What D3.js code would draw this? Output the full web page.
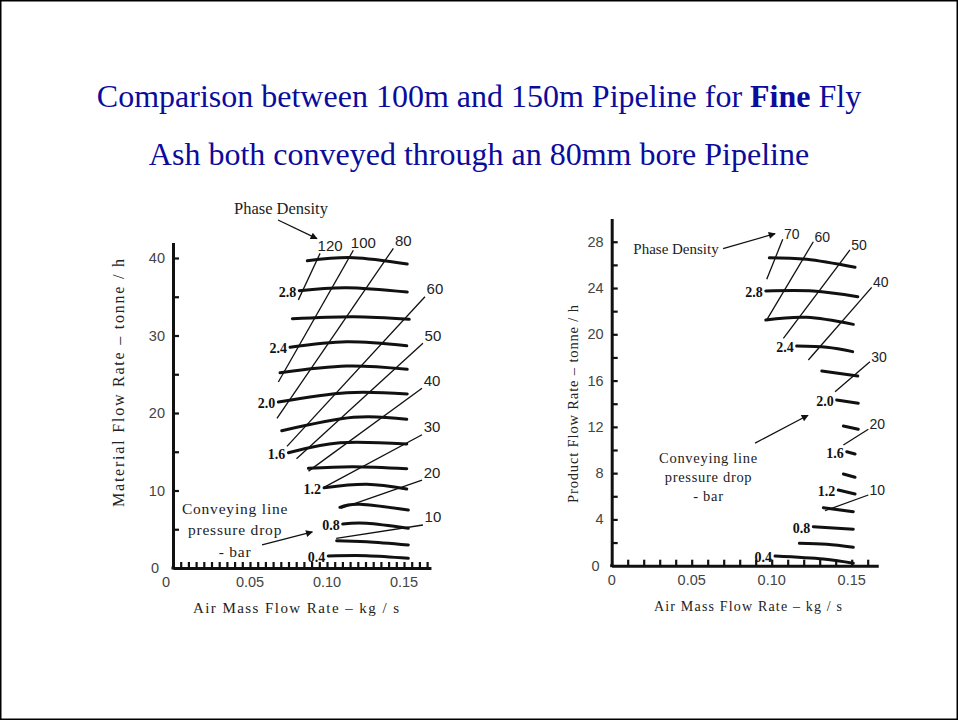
<!DOCTYPE html>
<html><head><meta charset="utf-8">
<script src="https://cdnjs.cloudflare.com/ajax/libs/d3/7.8.5/d3.min.js"></script>
<style>body{margin:0;background:#fff}svg{display:block}</style>
</head><body>
<script>
// ---------- DATA ----------
const titleLine1 = ["Comparison between 100m and 150m Pipeline for ", "Fine", " Fly"];
const titleLine2 = "Ash both conveyed through an 80mm bore Pipeline";

const pressureLevels = [3.0, 2.8, 2.6, 2.4, 2.2, 2.0, 1.8, 1.6, 1.4, 1.2, 1.0, 0.8, 0.6, 0.4];
const pressureLabelLevels = [2.8, 2.4, 2.0, 1.6, 1.2, 0.8, 0.4];

// left chart (100 m): pressure-drop curves, points [air kg/s, material t/h]
const leftCurves = [
  [[0.0872,39.65],[0.1171,40.04],[0.1521,39.23]],
  [[0.0820,35.78],[0.1128,36.17],[0.1521,35.61]],
  [[0.0775,32.17],[0.1171,32.43],[0.1534,32.09]],
  [[0.0760,28.48],[0.1128,29.20],[0.1518,28.68]],
  [[0.0695,25.20],[0.1128,26.06],[0.1521,25.64]],
  [[0.0684,21.42],[0.1128,22.62],[0.1521,22.45]],
  [[0.0706,17.72],[0.1171,19.45],[0.1518,19.19]],
  [[0.0749,14.88],[0.1084,16.17],[0.1518,16.00]],
  [[0.0879,12.86],[0.1171,13.07],[0.1518,12.81]],
  [[0.0981,10.36],[0.1258,10.80],[0.1518,10.19]],
  [[0.1084,7.83],[0.1214,8.22],[0.1528,7.48]],
  [[0.1102,5.68],[0.1258,5.77],[0.1528,5.12]],
  [[0.1063,3.52],[0.1258,3.39],[0.1528,2.97]],
  [[0.1008,1.55],[0.1258,1.59],[0.1528,1.25]]
];
const leftPhaseValues = [120, 100, 80, 60, 50, 40, 30, 20, 10];
// [lower air, lower material, upper air, upper material]
const leftPhaseLines = [
  [0.0814,34.6, 0.0955,40.6],
  [0.0684,24.0, 0.1171,41.0],
  [0.0675,19.3, 0.1431,41.25],
  [0.0740,15.7, 0.1636,35.0],
  [0.0802,14.1, 0.1623,29.0],
  [0.0880,12.5, 0.1617,23.2],
  [0.0980,10.4, 0.1617,17.2],
  [0.1090,7.7, 0.1617,11.35],
  [0.1060,3.83, 0.1623,5.55]
];

// right chart (150 m)
const rightCurves = [
  [[0.0985,26.62],[0.1219,26.48],[0.1521,25.79]],
  [[0.0963,23.74],[0.1260,23.74],[0.1538,23.25]],
  [[0.0963,21.24],[0.1219,21.47],[0.1510,20.86]],
  [[0.1156,18.99],[0.1344,18.88],[0.1506,18.50]],
  [[0.1313,16.83],[0.1538,16.40]],
  [[0.1406,14.32],[0.1541,14.04]],
  [[0.1448,12.07],[0.1541,11.79]],
  [[0.1469,9.85],[0.1521,9.65]],
  [[0.1448,7.93],[0.1521,7.64]],
  [[0.1416,6.54],[0.1521,6.20]],
  [[0.1323,5.01],[0.1510,4.67]],
  [[0.1260,3.37],[0.1510,3.15]],
  [[0.1173,1.94],[0.1344,1.85],[0.1510,1.59]],
  [[0.1021,0.84],[0.1323,0.58],[0.1510,0.21]]
];
const rightPhaseValues = [70, 60, 50, 40, 30, 20, 10];
const rightPhaseLines = [
  [0.0969,24.75, 0.1069,28.21],
  [0.0969,21.24, 0.1260,28.00],
  [0.1073,19.65, 0.1489,27.29],
  [0.1229,17.78, 0.1625,24.06],
  [0.1396,15.04, 0.1614,17.63],
  [0.1448,10.43, 0.1604,11.79],
  [0.1333,4.75, 0.1604,6.11]
];

const xTickLabels = [0, 0.05, 0.10, 0.15];
const leftYTickLabels = [0, 10, 20, 30, 40];
const rightYTickLabels = [0, 4, 8, 12, 16, 20, 24, 28];
const conveyingText = ["Conveying  line", "pressure  drop", "- bar"];

// ---------- DRAWING ----------
const W = 958, H = 720;
const svg = d3.select("body").append("svg").attr("width", W).attr("height", H);
svg.append("rect").attr("x", 0.75).attr("y", 0.75).attr("width", W - 1.5).attr("height", H - 1.5)
  .attr("fill", "#fff").attr("stroke", "#000").attr("stroke-width", 1.5);

svg.append("defs").append("marker").attr("id", "arr").attr("viewBox", "0 0 10 10")
  .attr("refX", 9).attr("refY", 5).attr("markerWidth", 9).attr("markerHeight", 7)
  .attr("markerUnits", "userSpaceOnUse").attr("orient", "auto")
  .append("path").attr("d", "M0,0 L10,5 L0,10 Z").attr("fill", "#111");

const serif = "Liberation Serif, Times New Roman, serif";
const sans = "Liberation Sans, Arial, sans-serif";

const title = svg.append("g").style("font-family", serif)
  .attr("font-size", 32).attr("fill", "#0b0b9c").attr("text-anchor", "middle");
const t1 = title.append("text").attr("x", 479).attr("y", 107);
t1.selectAll("tspan").data(titleLine1).join("tspan").text(d => d)
  .attr("font-weight", (d, i) => i === 1 ? "bold" : null);
title.append("text").attr("x", 479).attr("y", 165).text(titleLine2);

function drawChart(cfg) {
  const g = svg.append("g");
  const x = d3.scaleLinear().domain(cfg.xDomain).range(cfg.xRange);
  const y = d3.scaleLinear().domain(cfg.yDomain).range(cfg.yRange);

  // axes: minor ticks pointing inward
  const xAx = g.append("g").attr("transform", `translate(0,${cfg.yRange[0]})`)
    .call(d3.axisBottom(x).tickValues(cfg.xMinor).tickSizeInner(-cfg.tickLen).tickSizeOuter(0).tickFormat(""));
  const yAx = g.append("g").attr("transform", `translate(${cfg.xRange[0]},0)`)
    .call(d3.axisLeft(y).tickValues(cfg.yMinor).tickSizeInner(-cfg.tickLen).tickSizeOuter(0).tickFormat(""));
  [xAx, yAx].forEach(a => {
    a.select(".domain").attr("stroke", "#111").attr("stroke-width", 3);
    a.selectAll(".tick line").attr("stroke", "#111").attr("stroke-width", 2.2);
  });
  g.append("line").attr("x1", cfg.xRange[0] - 1.5).attr("x2", cfg.xRange[0] + 1.5)
    .attr("y1", cfg.yRange[0]).attr("y2", cfg.yRange[0]).attr("stroke", "#111").attr("stroke-width", 3);

  // tick labels
  g.append("g").selectAll("text").data(xTickLabels).join("text")
    .attr("x", d => x(d) + (d === 0 ? cfg.zeroShift : 0)).attr("y", cfg.yRange[0] + 19)
    .attr("text-anchor", "middle").style("font-family", sans).attr("font-size", 14.5).attr("fill", "#444")
    .text(d => d === 0 ? "0" : d.toFixed(2));
  g.append("g").selectAll("text").data(cfg.yTicks).join("text")
    .attr("x", d => cfg.xRange[0] - (d === 0 ? cfg.yZeroGap : 8)).attr("y", d => y(d) + 5)
    .attr("text-anchor", "end").style("font-family", sans).attr("font-size", 14.5).attr("fill", "#444")
    .text(d => d);

  // axis titles
  g.append("text").attr("x", cfg.xTitle[0]).attr("y", cfg.xTitle[1]).attr("text-anchor", "middle")
    .style("font-family", serif).attr("font-size", cfg.xTitleSize).attr("fill", "#222")
    .attr("textLength", cfg.xTitleLen).attr("lengthAdjust", "spacing")
    .text("Air Mass Flow Rate  \u2013  kg / s");
  g.append("text").attr("transform", `translate(${cfg.yTitle[0]},${cfg.yTitle[1]}) rotate(-90)`)
    .attr("text-anchor", "middle").style("font-family", serif).attr("font-size", cfg.yTitleSize).attr("fill", "#222")
    .attr("textLength", cfg.yTitleLen).attr("lengthAdjust", "spacing")
    .text(cfg.yLabel);

  // phase density lines
  g.append("g").selectAll("line").data(cfg.phaseLines).join("line")
    .attr("x1", d => x(d[0])).attr("y1", d => y(d[1]))
    .attr("x2", d => x(d[2])).attr("y2", d => y(d[3]))
    .attr("stroke", "#111").attr("stroke-width", 1.3);
  g.append("g").selectAll("text").data(cfg.phaseLines).join("text")
    .attr("x", d => x(d[2]) + cfg.phaseDx).attr("y", d => y(d[3]) + cfg.phaseDy)
    .attr("text-anchor", "middle").attr("dominant-baseline", "central")
    .style("font-family", sans).attr("font-size", cfg.phaseSize).attr("fill", "#222")
    .text((d, i) => cfg.phaseValues[i]);

  // pressure drop curves
  const line = d3.line().x(d => x(d[0])).y(d => y(d[1])).curve(d3.curveNatural);
  g.append("g").selectAll("path").data(cfg.curves).join("path")
    .attr("d", line).attr("fill", "none").attr("stroke", "#111")
    .attr("stroke-width", 3).attr("stroke-linecap", "round");
  g.append("g").selectAll("text").data(pressureLabelLevels).join("text")
    .attr("x", p => x(cfg.curves[pressureLevels.indexOf(p)][0][0]) - 3)
    .attr("y", p => y(cfg.curves[pressureLevels.indexOf(p)][0][1]) + 6)
    .attr("text-anchor", "end").style("font-family", serif).attr("font-weight", "bold")
    .attr("font-size", 14).attr("fill", "#111").text(p => p.toFixed(1));

  // annotations
  g.append("text").attr("x", x(cfg.phaseText[0])).attr("y", y(cfg.phaseText[1]))
    .attr("text-anchor", "middle").attr("dominant-baseline", "central")
    .style("font-family", serif).attr("font-size", cfg.phaseTextSize).attr("fill", "#222").text("Phase Density");
  g.append("line").attr("x1", x(cfg.phaseArrow[0])).attr("y1", y(cfg.phaseArrow[1]))
    .attr("x2", x(cfg.phaseArrow[2])).attr("y2", y(cfg.phaseArrow[3]))
    .attr("stroke", "#111").attr("stroke-width", 1.3).attr("marker-end", "url(#arr)");
  g.append("g").selectAll("text").data(conveyingText).join("text")
    .attr("x", x(cfg.convText[0])).attr("y", (d, i) => y(cfg.convText[1]) + i * cfg.convGap)
    .attr("text-anchor", "middle").attr("dominant-baseline", "central")
    .style("font-family", serif).attr("font-size", cfg.annSize).attr("fill", "#222")
    .attr("letter-spacing", cfg.convSpacing).text(d => d);
  g.append("line").attr("x1", x(cfg.convArrow[0])).attr("y1", y(cfg.convArrow[1]))
    .attr("x2", x(cfg.convArrow[2])).attr("y2", y(cfg.convArrow[3]))
    .attr("stroke", "#111").attr("stroke-width", 1.3).attr("marker-end", "url(#arr)");
}

drawChart({
  xDomain: [0, 0.1675], xRange: [173, 173 + 0.1675 * 1540],
  yDomain: [0, 42], yRange: [568, 568 - 42 * 7.75],
  xMinor: d3.range(1, 34).map(i => i * 0.005), yMinor: [5, 10, 15, 20, 25, 30, 35, 40],
  tickLen: 6, zeroShift: -7, yZeroGap: 14, yTicks: leftYTickLabels,
  xTitle: [296, 613], xTitleLen: 206, xTitleSize: 15,
  yTitle: [124, 383], yTitleLen: 248, yTitleSize: 16,
  yLabel: "Material Flow Rate \u2013 tonne / h",
  phaseLines: leftPhaseLines, phaseValues: leftPhaseValues, phaseDx: 10, phaseDy: -8, phaseSize: 15,
  curves: leftCurves,
  phaseText: [0.0701, 46.45], phaseTextSize: 16.5, phaseArrow: [0.0682, 44.9, 0.0935, 42.5],
  convText: [0.0403, 7.74], convGap: 21.5, convArrow: [0.0578, 2.97, 0.0905, 4.65],
  annSize: 15.5, convSpacing: 0.8
});

drawChart({
  xDomain: [0, 0.1666], xRange: [611.7, 611.7 + 0.1666 * 1600],
  yDomain: [0, 30], yRange: [565.7, 565.7 - 30 * 11.57],
  xMinor: d3.range(1, 17).map(i => i * 0.01), yMinor: d3.range(1, 15).map(i => i * 2),
  tickLen: 6, zeroShift: 0, yZeroGap: 12, yTicks: rightYTickLabels,
  xTitle: [748, 611], xTitleLen: 188, xTitleSize: 14,
  yTitle: [578, 404], yTitleLen: 198, yTitleSize: 14.5,
  yLabel: "Product Flow Rate \u2013 tonne / h",
  phaseLines: rightPhaseLines, phaseValues: rightPhaseValues, phaseDx: 9, phaseDy: -5, phaseSize: 14,
  curves: rightCurves,
  phaseText: [0.0402, 27.4], phaseTextSize: 15, phaseArrow: [0.0696, 27.4, 0.1021, 28.7],
  convText: [0.0605, 9.31], convGap: 19, convArrow: [0.0896, 10.6, 0.1227, 13.0],
  annSize: 14.5, convSpacing: 0.7
});
</script>
</body></html>
